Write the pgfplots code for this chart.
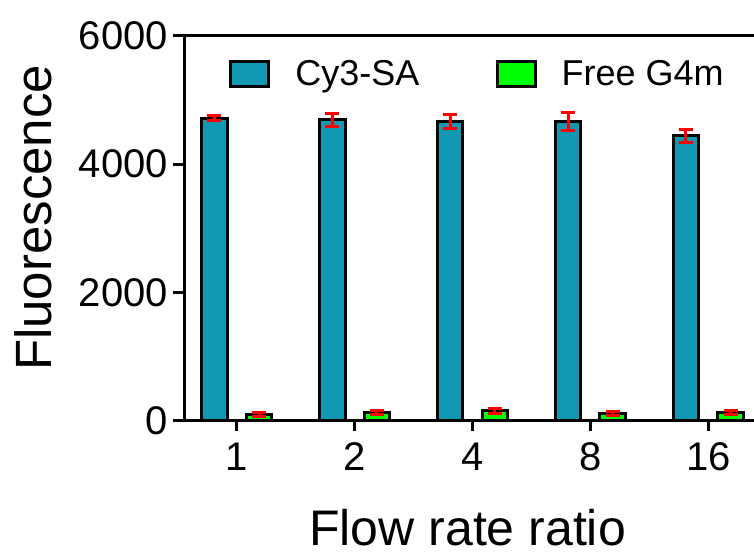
\documentclass[border=0pt]{standalone}
\usepackage{fontspec}
\setmainfont{Liberation Sans}
\usepackage{pgfplots}
\pgfplotsset{compat=1.18}

\definecolor{cyfill}{RGB}{17,152,178}
\definecolor{g4fill}{RGB}{0,255,0}
\definecolor{errred}{RGB}{255,0,0}

\begin{document}
\begin{tikzpicture}
\begin{axis}[
  name=ax,
  scale only axis,
  width=569.5pt, height=384.5pt,
  xmin=-0.443, xmax=4.388,
  ymin=0, ymax=6000,
  ytick={0,2000,4000,6000},
  xtick={0,1,2,3,4},
  xticklabels={1,2,4,8,16},
  axis x line*=bottom,
  axis y line*=left,
  axis line style={-, line width=3pt},
  tick style={line width=3pt, black},
  major tick length=11pt,
  tick align=outside,
  clip=false,
  /pgf/number format/1000 sep={},
  /pgf/number format/assume math mode=true,
  ticklabel style={font=\fontsize{40}{44}\selectfont},
  yticklabel style={anchor=east, xshift=-2pt},
  xticklabel style={anchor=base, yshift=-39pt},
  xlabel={Flow rate ratio},
  ylabel={Fluorescence},
  every axis x label/.style={at={(axis description cs:0.497,-0.325)}, anchor=base,
    inner sep=0pt, font=\fontsize{50}{56}\selectfont},
  every axis y label/.style={at={(axis description cs:-0.266,0.527)}, anchor=center,
    rotate=90, inner sep=0pt, font=\fontsize{51}{58}\selectfont},
  ybar,
  bar width=25.5pt,
  legend columns=2,
  legend image code/.code={\draw[#1, line width=3pt] (0pt,-12.5pt) rectangle (38pt,12.5pt);},
  legend style={at={(axis description cs:0.079,0.901)}, anchor=west,
    draw=none, fill=none, inner sep=0pt, outer sep=0pt,
    font=\fontsize{36}{40}\selectfont,
    nodes={inner sep=0pt, outer sep=0pt},
    /tikz/every odd column/.append style={column sep=25pt},
    /tikz/every even column/.append style={column sep=76pt}},
  error bars/error bar style={errred, line width=3pt},
  error bars/error mark options={rotate=90, errred, mark size=7pt, line width=3pt},
]
% Cy3-SA signal
\addplot[fill=cyfill, draw=black, line width=3pt, bar shift=-22.3pt,
  error bars/.cd, y dir=both, y explicit]
  coordinates {
    (0,4720) +- (0,40)
    (1,4690) +- (0,100)
    (2,4660) +- (0,110)
    (3,4660) +- (0,140)
    (4,4440) +- (0,100)
  };
% Free G4m signal
\addplot[fill=g4fill, draw=black, line width=3pt, bar shift=22.3pt,
  error bars/.cd, y dir=both, y explicit]
  coordinates {
    (0,90) +- (0,30)
    (1,130) +- (0,30)
    (2,150) +- (0,35)
    (3,110) +- (0,30)
    (4,125) +- (0,30)
  };
\legend{Cy3-SA, Free G4m}
% top frame line
\draw[line width=3pt] (rel axis cs:0,1) -- (rel axis cs:1,1);
\end{axis}
\pgfresetboundingbox
\path[use as bounding box] (ax.south west) ++(-184.5pt,-136.5pt) rectangle ([yshift=36pt]ax.north east);
\end{tikzpicture}
\end{document}
